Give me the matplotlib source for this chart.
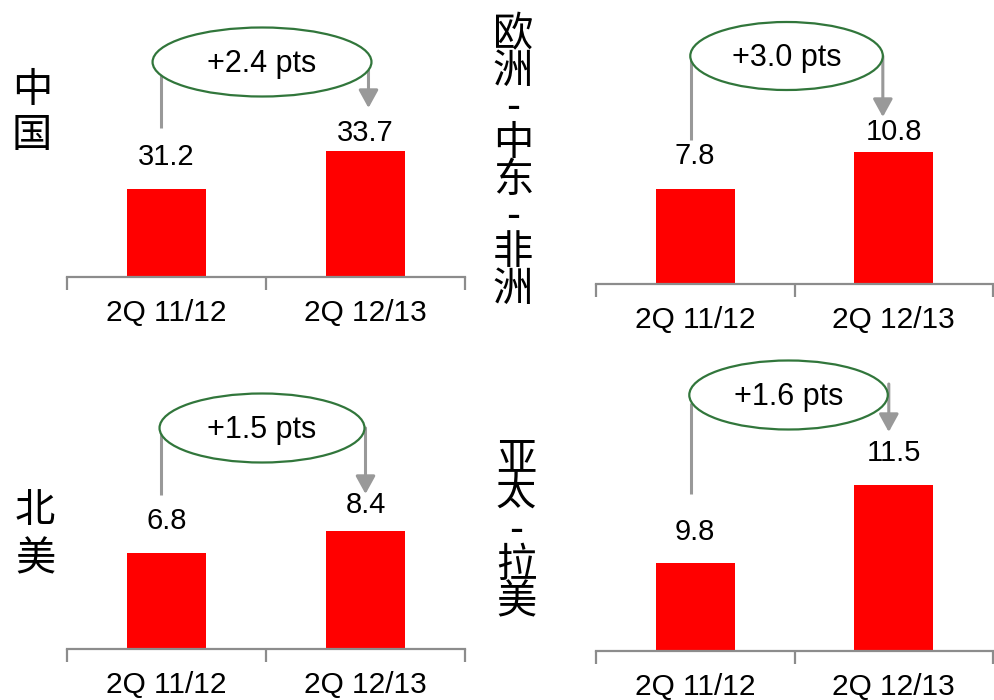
import matplotlib
matplotlib.use("Agg")
import matplotlib.pyplot as plt
from matplotlib.patches import Ellipse
from matplotlib.transforms import blended_transform_factory

# ---------------- data ----------------
categories = ["2Q 11/12", "2Q 12/13"]
regions = ["中国", "欧洲-中东-非洲", "北美", "亚太-拉美"]
values_china = [31.2, 33.7]
values_emea = [7.8, 10.8]
values_na = [6.8, 8.4]
values_apla = [9.8, 11.5]
changes = ["+2.4 pts", "+3.0 pts", "+1.5 pts", "+1.6 pts"]
series = [values_china, values_emea, values_na, values_apla]

# ---------------- style / layout ----------------
W, H = 994, 700
DPI = 100
RED = "#FF0000"
GREY = "#999999"
AXGREY = "#8C8C8C"
GREEN = "#31763B"
LATIN = ["Liberation Sans", "DejaVu Sans"]
CJK = ["Noto Sans CJK SC", "DejaVu Sans"]

panels = [
    dict(left=67, width=398, base=277, ylim=(25.4, 41.85), lab_off=(32, 18),
         reg_xy=(32, 113), reg_ls=1.14,
         ell=(0.48, 62, 1.10, 69), lx=-0.03, ly=(62, 128), rx=0.015, ry=(62, 108)),
    dict(left=596, width=397, base=284, ylim=(0.0, 20.5), lab_off=(33, 20),
         reg_xy=(513, 162), reg_ls=0.855,
         ell=(0.46, 56, 0.97, 68), lx=-0.02, ly=(56, 140), rx=-0.055, ry=(56, 117)),
    dict(left=67, width=398, base=649, ylim=(0.0, 17.73), lab_off=(32, 26),
         reg_xy=(35, 535), reg_ls=1.23,
         ell=(0.48, 428, 1.03, 69), lx=-0.03, ly=(428, 495), rx=0.0, ry=(428, 494)),
    dict(left=596, width=397, base=651, ylim=(7.88, 13.33), lab_off=(31, 32),
         reg_xy=(516, 530), reg_ls=0.84,
         ell=(0.47, 395, 1.00, 69), lx=-0.02, ly=(403, 494), rx=-0.025, ry=(384, 432)),
]
AX_H = 250  # axes height in px

fig = plt.figure(figsize=(W / DPI, H / DPI), dpi=DPI)
fig.patch.set_facecolor("white")

ov = fig.add_axes([0, 0, 1, 1], zorder=5)
ov.set_xlim(0, W)
ov.set_ylim(H, 0)
ov.axis("off")
ov.patch.set_alpha(0)

x = list(range(len(categories)))
for p, vals, reg, chg in zip(panels, series, regions, changes):
    ax = fig.add_axes([p["left"] / W, (H - p["base"]) / H, p["width"] / W, AX_H / H])
    ax.bar(x, vals, width=0.4, color=RED, zorder=2)
    ax.set_xlim(-0.5, 1.5)
    ax.set_ylim(*p["ylim"])
    for s in ["top", "right", "left"]:
        ax.spines[s].set_visible(False)
    ax.spines["bottom"].set_color(AXGREY)
    ax.spines["bottom"].set_linewidth(1.6)
    ax.set_yticks([])
    ax.set_xticks(x)
    ax.set_xticklabels(categories, fontfamily=LATIN, fontsize=21.5)
    ax.tick_params(axis="x", which="major", length=0, pad=16)
    ax.set_xticks([-0.5, 0.5, 1.5], minor=True)
    ax.tick_params(axis="x", which="minor", length=9, width=1.6, color=AXGREY, direction="out")
    ax.patch.set_alpha(0)

    for i, v in enumerate(vals):
        ax.annotate(f"{v:.1f}", xy=(i, v), xytext=(0, p["lab_off"][i] * 0.72),
                    textcoords="offset points", ha="center", va="center",
                    fontfamily=LATIN, fontsize=21)

    ov.text(p["reg_xy"][0], p["reg_xy"][1], "\n".join(reg), ha="center", va="center",
            fontfamily=CJK, fontsize=29, linespacing=p["reg_ls"])

    tr = blended_transform_factory(ax.transData, ov.transData)
    ex, ey, ew, eh = p["ell"]
    ov.plot([p["lx"], p["lx"]], p["ly"], color=GREY, lw=2.2, transform=tr,
            solid_capstyle="butt", zorder=1, clip_on=False)
    ov.annotate("", xy=(1 + p["rx"], p["ry"][1]), xytext=(1 + p["rx"], p["ry"][0]),
                xycoords=tr, textcoords=tr,
                arrowprops=dict(arrowstyle="-|>,head_length=0.4,head_width=0.22",
                                color=GREY, lw=2.2, mutation_scale=27,
                                shrinkA=0, shrinkB=0), zorder=1)
    e = Ellipse((ex, ey), ew, eh, transform=tr, facecolor="white",
                edgecolor=GREEN, lw=1.6, zorder=3, clip_on=False)
    ov.add_patch(e)
    ov.text(ex, ey + 10, chg, transform=tr, ha="center", va="baseline",
            fontfamily=LATIN, fontsize=22, zorder=4)

fig.savefig("out.png", dpi=DPI, facecolor="white")
